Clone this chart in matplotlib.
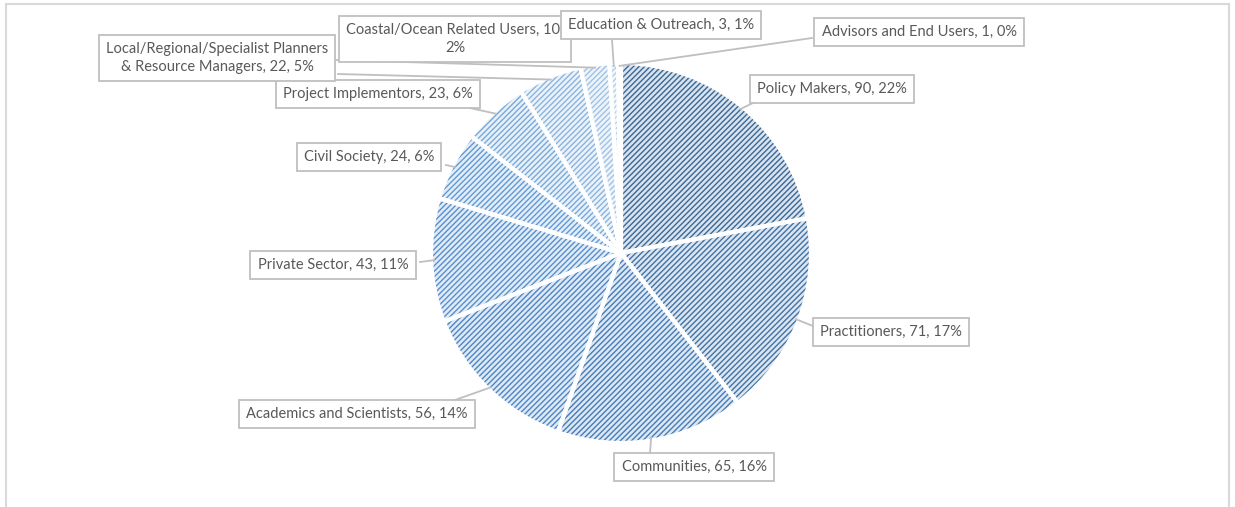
import matplotlib
matplotlib.use("Agg")
import matplotlib.pyplot as plt
import numpy as np
from matplotlib.patches import Rectangle

categories = ["Policy Makers", "Practitioners", "Communities", "Academics and Scientists",
              "Private Sector", "Civil Society", "Project Implementors",
              "Local/Regional/Specialist Planners\n& Resource Managers",
              "Coastal/Ocean Related Users", "Education & Outreach", "Advisors and End Users"]
values = [90, 71, 65, 56, 43, 24, 23, 22, 10, 3, 1]
percent_labels = ["22%", "17%", "16%", "14%", "11%", "6%", "6%", "5%", "2%", "1%", "0%"]

stripe_colors = ["#3A6894", "#4172A4", "#467CB8", "#4E86C6", "#5690CF", "#5F9AD6",
                 "#78A9DC", "#8AB4E0", "#9FC2E6", "#B3CEEB", "#C6DAF0"]
bg_colors = ["#D8E3EF", "#DAE5F1", "#DCE7F3", "#DEE9F4", "#E1EBF5", "#E4EDF7",
             "#E8F0F8", "#EBF2F9", "#EEF4FA", "#F1F6FB", "#F4F8FC"]

W, H = 1235, 507
plt.rcParams['hatch.linewidth'] = 1.0
plt.rcParams['font.family'] = ['Lato', 'DejaVu Sans']

fig = plt.figure(figsize=(W / 100, H / 100), dpi=100)
ax = fig.add_axes([0, 0, 1, 1])

cx, cy, R = 621, H - 253, 190

wedges, _ = ax.pie(values, center=(cx, cy), radius=R, startangle=90, counterclock=False)
for w, sc, bc in zip(wedges, stripe_colors, bg_colors):
    w.set_facecolor(bc)
    w.set_edgecolor(sc)
    w.set_linewidth(0)
    w.set_hatch('//////')
wedges2, _ = ax.pie(values, center=(cx, cy), radius=R, startangle=90, counterclock=False,
                    wedgeprops=dict(fill=False, edgecolor='white', linewidth=3.0))

ax.set_xlim(0, W)
ax.set_ylim(0, H)
ax.set_aspect('auto')
ax.axis('off')

# chart frame
ax.add_patch(Rectangle((5.5, -10), 1223.5, H - 3.5 + 10, fill=False, edgecolor='#D9D9D9', linewidth=1.5))

# label layout (pixel coords, y downward)
label_pos = [(832, 89), (891, 332), (694, 467), (357, 414), (333, 265), (369, 157),
             (378, 94), (217, 58), (455, 39), (661, 25), (919, 32)]
leader_start = [(755, 102), (813, 326), (650, 453), (455, 400), (420, 262), (446, 165),
                (470, 108), (338, 74), (336, 60), (612, 40), (812, 38)]

total = sum(values)
ang = 90.0
for i, (cat, v, pct) in enumerate(zip(categories, values, percent_labels)):
    span = 360.0 * v / total
    mid = np.deg2rad(ang - span / 2)
    ang -= span
    ax_pt = (cx + 0.985 * R * np.cos(mid), cy + 0.985 * R * np.sin(mid))
    sx, sy = leader_start[i]
    ax.plot([sx, ax_pt[0]], [H - sy, ax_pt[1]], color='#BFBFBF', linewidth=1.3, zorder=3)

for i, (cat, v, pct) in enumerate(zip(categories, values, percent_labels)):
    if cat.startswith("Coastal"):
        txt = f"{cat}, {v},\n{pct}"
    else:
        txt = f"{cat}, {v}, {pct}"
    x, y = label_pos[i]
    ax.text(x, H - y, txt, ha='center', va='center', fontsize=10.5, color='#595959',
            linespacing=1.3, zorder=5 + i,
            bbox=dict(boxstyle='square,pad=0.5', facecolor='white', edgecolor='#BFBFBF', linewidth=1.3))

fig.savefig("out.png", dpi=100)
